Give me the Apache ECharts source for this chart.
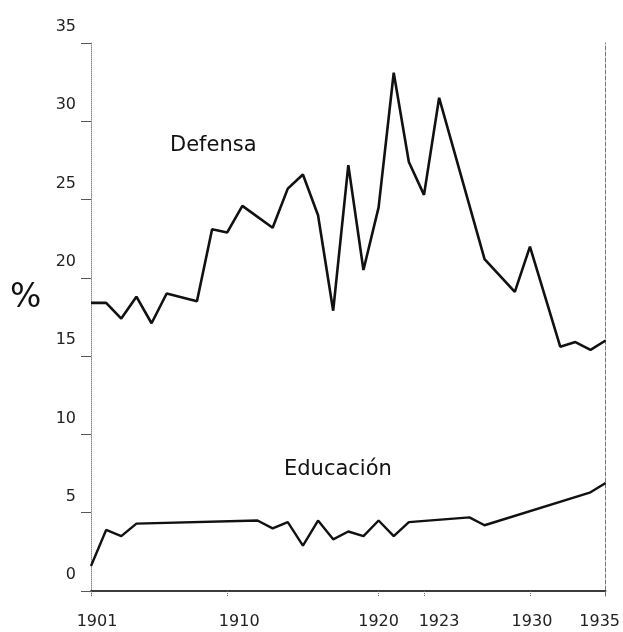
<!DOCTYPE html>
<html>
<head>
<meta charset="utf-8">
<script src="https://cdn.jsdelivr.net/npm/echarts@6/dist/echarts.min.js"></script>
<style>
  html, body { margin: 0; padding: 0; background: #fff; }
  #chart { width: 623px; height: 632px; }
</style>
</head>
<body>
<div id="chart"></div>
<script>
// años y valores (% del gasto)
var defYears = [1901, 1902, 1903, 1904, 1905, 1906, 1908, 1909, 1910, 1911, 1913, 1914, 1915, 1916, 1917, 1918, 1919, 1920, 1921, 1922, 1923, 1924, 1927, 1929, 1930, 1932, 1933, 1934, 1935];
var defValues = [18.4, 18.4, 17.4, 18.8, 17.1, 19.0, 18.5, 23.1, 22.9, 24.6, 23.2, 25.7, 26.6, 24.0, 17.9, 27.2, 20.5, 24.5, 33.1, 27.4, 25.3, 31.5, 21.2, 19.1, 22.0, 15.6, 15.9, 15.4, 16.0];

var eduYears = [1901, 1902, 1903, 1904, 1912, 1913, 1914, 1915, 1916, 1917, 1918, 1919, 1920, 1921, 1922, 1926, 1927, 1934, 1935];
var eduValues = [1.6, 3.9, 3.5, 4.3, 4.5, 4.0, 4.4, 2.9, 4.5, 3.3, 3.8, 3.5, 4.5, 3.5, 4.4, 4.7, 4.2, 6.3, 6.9];

// marcas de los ejes
var xTicks = [1901, 1910, 1920, 1923, 1930, 1935];
var yTicks = [0, 5, 10, 15, 20, 25, 30, 35];

function pairs(xs, ys) {
  return xs.map(function (x, i) { return [x, ys[i]]; });
}

// pequeño desplazamiento horizontal de cada etiqueta de año (como en el original)
var labelShift = { 1901: 6, 1910: 12, 1920: 0, 1923: 15, 1930: 2, 1935: -6 };
var rich = {};
xTicks.forEach(function (y) {
  var d = labelShift[y];
  rich['y' + y] = {
    fontFamily: 'DejaVu Sans',
    fontSize: 16,
    color: '#222',
    padding: d >= 0 ? [0, 0, 0, 2 * d] : [0, -2 * d, 0, 0]
  };
});

var myChart = echarts.init(document.getElementById('chart'));

var option = {
  animation: false,
  backgroundColor: '#fff',
  grid: { left: 91, right: 16, top: 43, bottom: 36 },
  xAxis: [
    {
      type: 'value',
      min: 1901,
      max: 1935,
      splitLine: { show: false },
      axisLine: { lineStyle: { color: '#222', width: 1.5 } },
      axisTick: { customValues: xTicks, length: 6, lineStyle: { color: '#666', type: 'dotted' } },
      axisLabel: {
        customValues: xTicks,
        margin: 18,
        formatter: function (v) { return '{y' + v + '|' + v + '}'; },
        rich: rich
      }
    },
    {
      // borde superior
      type: 'value',
      position: 'top',
      min: 1901,
      max: 1935,
      axisLine: { show: true, lineStyle: { color: '#333', width: 1.5 } },
      axisTick: { show: false },
      axisLabel: { show: false },
      splitLine: { show: false }
    }
  ],
  yAxis: [
    {
      type: 'value',
      min: -0.32,
      max: 35,
      splitLine: { show: false },
      axisLine: { show: true, lineStyle: { color: '#888', type: 'dotted' } },
      axisTick: { show: true, customValues: yTicks, length: 10, lineStyle: { color: '#555' } },
      axisLabel: {
        customValues: yTicks,
        fontFamily: 'DejaVu Sans',
        fontSize: 16,
        color: '#222',
        margin: 15,
        verticalAlign: 'bottom',
        padding: [0, 0, 8, 0]
      }
    },
    {
      // borde derecho discontinuo
      type: 'value',
      position: 'right',
      min: -0.32,
      max: 35,
      splitLine: { show: false },
      axisLine: { show: true, lineStyle: { color: '#777', type: 'dashed' } },
      axisTick: { show: false },
      axisLabel: { show: false }
    }
  ],
  graphic: [
    {
      type: 'text',
      left: 170, top: 135,
      style: { text: 'Defensa', font: '21px "DejaVu Sans"', fill: '#111' }
    },
    {
      type: 'text',
      left: 284, top: 459,
      style: { text: 'Educación', font: '21px "DejaVu Sans"', fill: '#111' }
    },
    {
      type: 'text',
      left: 10, top: 282,
      style: { text: '%', font: '33px "DejaVu Sans"', fill: '#111' }
    }
  ],
  series: [
    {
      name: 'Defensa',
      type: 'line',
      showSymbol: false,
      data: pairs(defYears, defValues),
      lineStyle: { color: '#111', width: 2.6 }
    },
    {
      name: 'Educación',
      type: 'line',
      showSymbol: false,
      data: pairs(eduYears, eduValues),
      lineStyle: { color: '#111', width: 2.4 }
    }
  ]
};

myChart.setOption(option);
</script>
</body>
</html>
